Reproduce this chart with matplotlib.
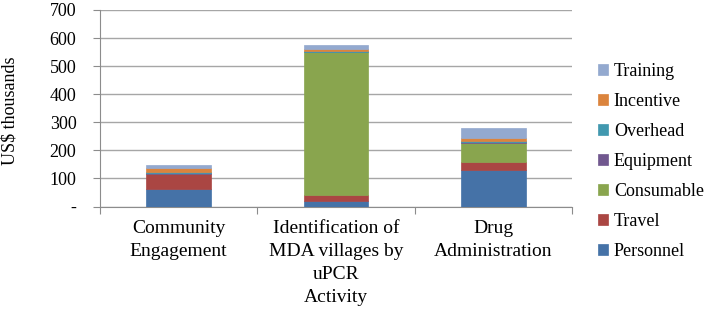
import matplotlib
matplotlib.use("Agg")
import matplotlib.pyplot as plt
import numpy as np

categories = ["Community\nEngagement", "Identification of\nMDA villages by\nuPCR", "Drug\nAdministration"]
series_names = ["Personnel", "Travel", "Consumable", "Equipment", "Overhead", "Incentive", "Training"]
personnel = [62, 18, 130]
travel = [52, 22, 27]
consumable = [3, 509, 70]
equipment = [1, 1, 2]
overhead = [5, 3, 6]
incentive = [14, 7, 9]
training = [11, 15, 34]
y_ticks = [0, 100, 200, 300, 400, 500, 600, 700]
y_tick_labels = ["-", "100", "200", "300", "400", "500", "600", "700"]

colors = ["#4572A7", "#AA4643", "#89A54E", "#71588F", "#4198AF", "#DB843D", "#93A9CF"]
data = [personnel, travel, consumable, equipment, overhead, incentive, training]

plt.rcParams['font.family'] = ['Liberation Serif', 'DejaVu Serif']
fig = plt.figure(figsize=(7.09, 3.12), dpi=100)
ax = fig.add_axes([100/709, 1-206.5/312, 472/709, (206.5-10)/312])

x = np.arange(len(categories))
bottom = np.zeros(len(categories))
handles = []
for name, vals, c in zip(series_names, data, colors):
    h = ax.bar(x, vals, width=0.41, bottom=bottom, color=c, edgecolor=c, linewidth=0.5, label=name, zorder=3)
    handles.append(h)
    bottom += np.array(vals)

ax.set_xlim(-0.5, len(categories)-0.5)
ax.set_ylim(0, 700)
ax.set_yticks(y_ticks)
ax.set_yticklabels(y_tick_labels, fontsize=13)
ax.yaxis.grid(True, color="#a6a6a6", linewidth=1, zorder=0)
ax.set_axisbelow(True)
for s in ["top", "right"]:
    ax.spines[s].set_visible(False)
for s in ["left", "bottom"]:
    ax.spines[s].set_color("#8c8c8c")
ax.tick_params(axis="y", length=5, color="#8c8c8c", pad=12)
ax.set_xticks(np.arange(-0.5, len(categories), 1.0))
ax.set_xticklabels([])
ax.tick_params(axis="x", length=5, color="#8c8c8c")
for i, cat in enumerate(categories):
    ax.text(i, -48, cat, ha="center", va="top", fontsize=14, linespacing=1.48,
            transform=ax.transData)
fig.text(336/709, 1-298/312, "Activity", ha="center", va="center", fontsize=14)
fig.text(10/709, 1-111/312, "US$ thousands", ha="center", va="center", rotation=90, fontsize=13)

leg = ax.legend(handles[::-1], series_names[::-1], loc="center left",
                bbox_to_anchor=(1.035, 0.23), frameon=False, fontsize=13,
                handlelength=0.6, handleheight=0.6, handletextpad=0.3,
                labelspacing=0.72, borderpad=0)

fig.savefig("out.png", dpi=100)
